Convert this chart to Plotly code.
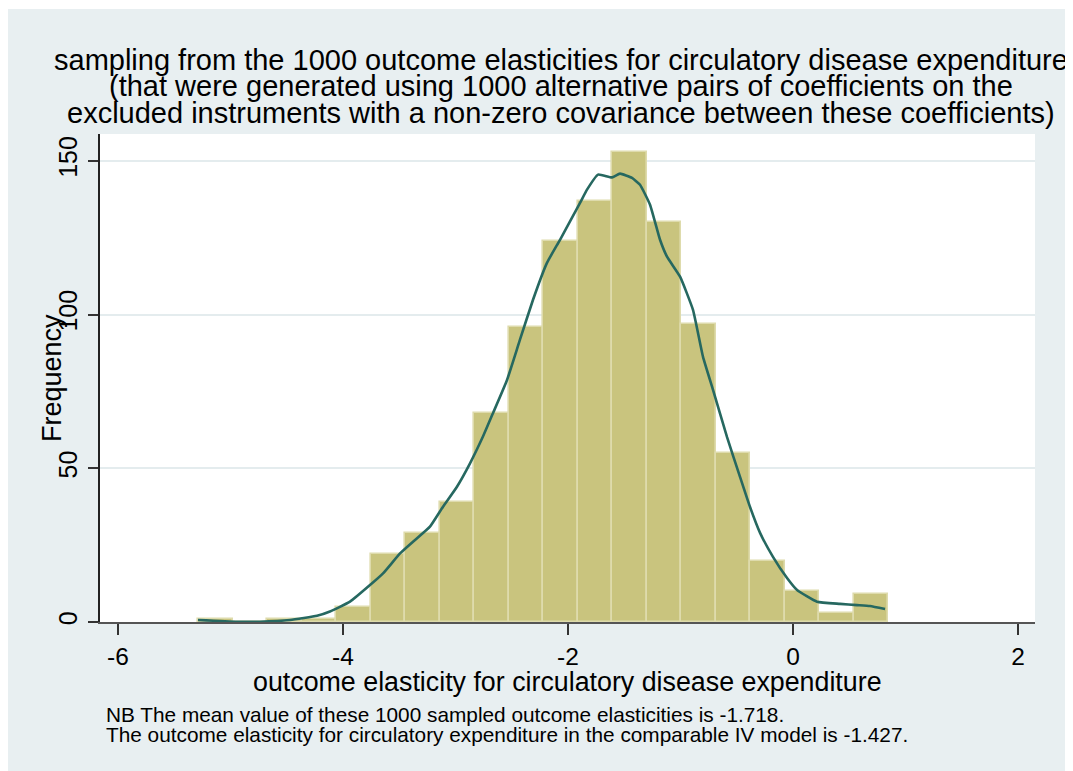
import plotly.graph_objects as go

# ---- data ----
bin_start = -5.289
bin_width = 0.3068
counts = [1, 0, 1, 1, 5, 22, 29, 39, 68, 96, 124, 137, 153, 130, 97, 55, 20, 10, 3, 9]

kde_x = [-5.289, -4.942, -4.738, -4.471, -4.231, -4.116, -3.938, -3.76, -3.644, -3.493,
         -3.378, -3.227, -3.111, -2.987, -2.871, -2.756, -2.667, -2.542, -2.427, -2.311,
         -2.187, -2.071, -1.893, -1.831, -1.733, -1.609, -1.538, -1.431, -1.36, -1.271,
         -1.182, -1.12, -1.004, -0.889, -0.8, -0.711, -0.587, -0.471, -0.382, -0.293,
         -0.178, -0.053, 0.036, 0.213, 0.418, 0.569, 0.684, 0.818]
kde_y = [0.65, 0.1, 0.1, 0.65, 2.0, 3.4, 6.6, 12.0, 15.8, 22.3,
         26.1, 31.0, 37.5, 44.0, 51.6, 60.3, 67.9, 78.7, 91.8, 104.8,
         116.8, 124.3, 136.3, 140.6, 145.5, 144.6, 145.8, 144.4, 142.2, 135.7,
         124.3, 118.8, 112.3, 101.5, 86.2, 75.5, 60.2, 47.2, 37.4, 29.0,
         21.2, 14.3, 10.4, 6.6, 5.9, 5.5, 5.2, 4.2]

x_ticks = [-6, -4, -2, 0, 2]
x_tick_text = ["-6", "-4", "-2", "0", "2"]
y_ticks = [0, 50, 100, 150]

title_lines = [
    "sampling from the 1000 outcome elasticities for circulatory disease expenditure",
    "(that were generated using 1000 alternative pairs of coefficients on the",
    "excluded instruments with a non-zero covariance between these coefficients)",
]
x_title = "outcome elasticity for circulatory disease expenditure"
y_title = "Frequency"
note_lines = [
    "NB The mean value of these 1000 sampled outcome elasticities is -1.718.",
    "The outcome elasticity for circulatory expenditure in the comparable IV model is -1.427.",
]

# ---- layout constants (page pixels; the page body has an 8px margin) ----
OFF = 8
W, H = 1073 - OFF, 771 - OFF
PL, PR, PT, PB = 100, 1035, 134, 622          # plot area in page pixels
L, T = PL - OFF, PT - OFF
R, B = W - (PR - OFF), H - (PB - OFF)
PW, PH = PR - PL, PB - PT
FONT = "Liberation Sans, Arial, sans-serif"
BG = "rgb(232,239,241)"


def px_to_paper_x(px):
    return (px - PL) / PW


def px_to_paper_y(py):
    return (PB - py) / PH


centers = [bin_start + bin_width * (i + 0.5) for i in range(len(counts))]

fig = go.Figure()
fig.add_trace(go.Bar(
    x=centers, y=counts, width=bin_width,
    marker=dict(color="rgb(201,196,126)", line=dict(color="rgb(222,219,172)", width=1.6)),
    showlegend=False, hoverinfo="x+y",
))
fig.add_trace(go.Scatter(
    x=kde_x, y=kde_y, mode="lines",
    line=dict(color="rgb(38,104,96)", width=2.6, shape="spline", smoothing=0.4),
    showlegend=False,
))

annotations = []
title_y = [59.5, 86, 112.5]
for txt, py in zip(title_lines, title_y):
    annotations.append(dict(
        text=txt, x=px_to_paper_x(561), y=px_to_paper_y(py), xref="paper", yref="paper",
        xanchor="center", yanchor="middle", showarrow=False,
        font=dict(family=FONT, size=29, color="black"),
    ))
annotations.append(dict(
    text=x_title, x=px_to_paper_x(567), y=px_to_paper_y(682), xref="paper", yref="paper",
    xanchor="center", yanchor="middle", showarrow=False,
    font=dict(family=FONT, size=26.8, color="black"),
))
annotations.append(dict(
    text=y_title, x=px_to_paper_x(52), y=px_to_paper_y(378), xref="paper", yref="paper",
    xanchor="center", yanchor="middle", showarrow=False, textangle=-90,
    font=dict(family=FONT, size=27, color="black"),
))
for txt, py in zip(note_lines, [714.5, 734]):
    annotations.append(dict(
        text=txt, x=px_to_paper_x(104), y=px_to_paper_y(py), xref="paper", yref="paper",
        xanchor="left", yanchor="middle", showarrow=False,
        font=dict(family=FONT, size=20.8, color="black"),
    ))

shapes = [
    # 1px extra white line at the very top of the page
    dict(type="rect", xref="paper", yref="paper",
         x0=px_to_paper_x(0), x1=px_to_paper_x(1073), y0=px_to_paper_y(9), y1=px_to_paper_y(8),
         fillcolor="white", line=dict(width=0), layer="above"),
]

fig.update_layout(
    width=W, height=H,
    margin=dict(l=L, r=R, t=T, b=B, autoexpand=False),
    paper_bgcolor=BG, plot_bgcolor="white",
    font=dict(family=FONT, size=24, color="black"),
    bargap=0,
    annotations=annotations,
    shapes=shapes,
    xaxis=dict(
        range=[-6.16, 2.151], tickvals=x_ticks, ticktext=x_tick_text,
        ticks="outside", ticklen=11, tickwidth=1.5, tickcolor="#333",
        showline=True, linecolor="#555", linewidth=2,
        showgrid=False, zeroline=False, ticklabelstandoff=1,
        tickfont=dict(family=FONT, size=24.5),
    ),
    yaxis=dict(
        range=[0, 158.7], tickvals=y_ticks,
        ticks="outside", ticklen=10, tickwidth=1.5, tickcolor="#333",
        showline=True, linecolor="#222", linewidth=1.5,
        showgrid=True, gridcolor="rgb(228,236,238)", gridwidth=2,
        zeroline=False, tickangle=-90, ticklabelstandoff=1,
        tickfont=dict(family=FONT, size=25),
    ),
)

fig.write_html("out.html")
